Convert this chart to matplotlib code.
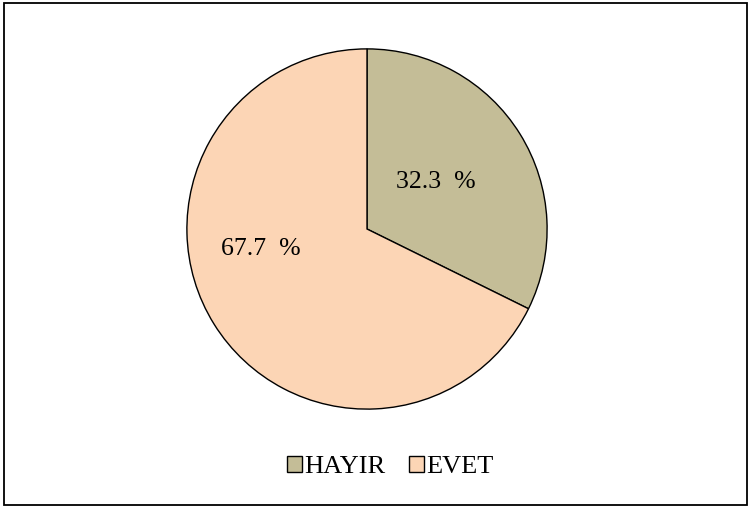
import matplotlib.pyplot as plt
from matplotlib.patches import Rectangle

plt.rcParams['font.family'] = ['Liberation Serif', 'DejaVu Serif']

# Data
labels = ['HAYIR', 'EVET']
values = [32.3, 67.7]
colors = ['#C4BD97', '#FCD5B5']
label_pos = [(0.38, 0.26), (-0.59, -0.11)]

fig = plt.figure(figsize=(7.51, 5.08), dpi=100)
fig.patches.append(Rectangle((0.005, 0.006), 0.99, 0.988, transform=fig.transFigure,
                             fill=False, edgecolor='black', linewidth=1.3))

W, H = 751, 508
cx, cy, r = 367, 229, 181
ax = fig.add_axes([(cx - r) / W, (H - cy - r) / H, 2 * r / W, 2 * r / H])

wedges, texts, autotexts = ax.pie(values, colors=colors, startangle=90, counterclock=False,
                                  autopct=lambda p: '%.1f  %%' % p,
                                  wedgeprops=dict(edgecolor='black', linewidth=1.0),
                                  textprops=dict(fontsize=18.5, color='black'))
for t, pos in zip(autotexts, label_pos):
    t.set_position(pos)
ax.set_xlim(-1.005, 1.005)
ax.set_ylim(-1.005, 1.005)
ax.set_aspect('equal')

fig.legend(wedges, labels, loc='center', bbox_to_anchor=(390 / W, 1 - 467 / H),
           ncol=2, frameon=False, fontsize=19, handlelength=0.57, handleheight=0.57,
           handletextpad=0.08, columnspacing=0.9)

fig.savefig('out.png', dpi=100)
